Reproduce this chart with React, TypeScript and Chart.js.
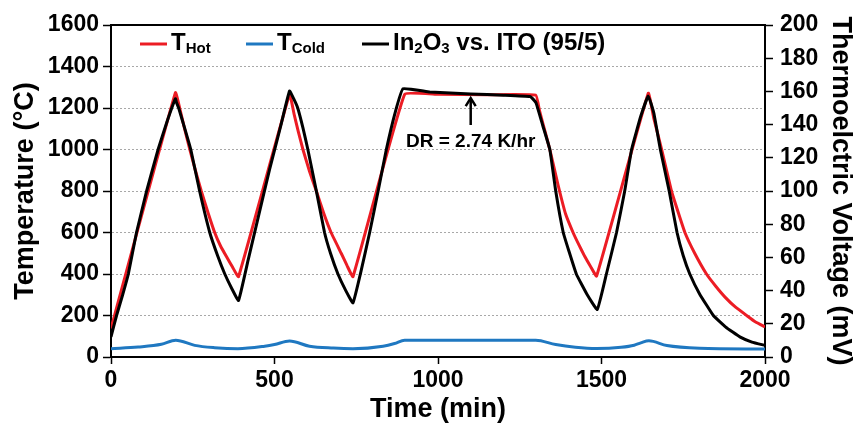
import React, { useEffect, useRef } from 'react';
import { Chart, registerables } from 'chart.js';

Chart.register(...registerables);

// ---- Data ----
const hotTime = [0, 197, 210, 225, 241, 258, 276, 297, 317, 335, 353, 372, 390, 546, 560, 573, 587, 607, 628, 650, 673, 704, 722, 740, 898, 1000, 1150, 1299, 1310, 1320, 1342, 1367, 1390, 1413, 1431, 1449, 1467, 1485, 1643, 1660, 1684, 1714, 1735, 1755, 1785, 1821, 1850, 1880, 1910, 1944, 1970, 2000];
const hotTemp = [137, 1274, 1200, 1100, 1000, 900, 800, 694, 600, 535, 484, 432, 387, 1266, 1170, 1085, 1000, 895, 800, 695, 600, 500, 440, 387, 1266, 1266, 1264, 1262, 1190, 1130, 1000, 830, 690, 600, 540, 484, 435, 390, 1271, 1150, 1000, 800, 695, 600, 500, 400, 340, 285, 240, 200, 170, 145];

const coldTime = [0, 83, 154, 198, 256, 317, 388, 470, 500, 546, 607, 680, 740, 832, 867, 898, 1299, 1360, 1420, 1485, 1560, 1600, 1620, 1645, 1700, 1800, 2000];
const coldTemp = [40, 48, 61, 81, 56, 45, 40, 52, 60, 77, 52, 43, 40, 52, 65, 81, 81, 60, 47, 41, 47, 57, 68, 78, 55, 42, 38];

const voltTime = [0, 17, 35, 53, 78, 109, 144, 170, 197, 200, 207, 225, 244, 271, 302, 327, 348, 370, 390, 420, 450, 485, 520, 546, 560, 571, 587, 602, 628, 653, 672, 694, 718, 740, 765, 791, 817, 842, 870, 893, 975, 1100, 1200, 1281, 1290, 1300, 1321, 1342, 1360, 1383, 1400, 1423, 1455, 1487, 1515, 1546, 1571, 1592, 1620, 1643, 1660, 1680, 1707, 1731, 1750, 1770, 1800, 1842, 1880, 1923, 1960, 2000];
const voltage = [12.1, 25, 37, 50, 75, 100, 125, 141, 155.6, 153.5, 150, 138, 125, 100, 75, 60.5, 50, 41, 34, 59, 84, 113, 140, 160.2, 155, 150, 138, 125, 100, 75, 62, 50, 40, 32.6, 52, 75, 100, 125, 148, 161.6, 159.6, 158.5, 157.7, 156.9, 155.5, 153, 139, 125, 100, 75, 64, 50, 38, 28.6, 50, 75, 100, 125, 145, 157.3, 147, 125, 100, 75, 61, 50, 38, 25, 18, 12.1, 9, 7];

// axis ranges / ticks
const xRange = [0, 2000];
const xStep = 500;
const tempRange = [0, 1600];
const tempStep = 200;
const voltRange = [0, 200];
const voltStep = 20;

// annotation
const drTime = 1100;
const drLabel = 'DR = 2.74 K/hr';

const FONT = "'Liberation Sans', Arial, Helvetica, sans-serif";
const RED = '#ec1c24';
const BLUE = '#1f78c1';
const BLACK = '#000000';

const toXY = (xs: number[], ys: number[]) => xs.map((x, i) => ({ x, y: ys[i] }));
const plain = (v: any) => String(v);

const frameAndLegend = {
  id: 'frameAndLegend',
  afterDraw(chart: any) {
    const { ctx, chartArea, scales } = chart;
    const L = chartArea.left;
    const T = chartArea.top;
    ctx.save();
    // top border
    ctx.strokeStyle = '#000';
    ctx.lineWidth = 2;
    ctx.beginPath();
    ctx.moveTo(chartArea.left - 1, T);
    ctx.lineTo(chartArea.right + 1, T);
    ctx.stroke();

    // legend
    const ly = T + 19;
    const base = T + 25;
    const subBase = T + 28;
    const drawItem = (x0: number, color: string, parts: { t: string; sub?: boolean }[]) => {
      ctx.strokeStyle = color;
      ctx.lineWidth = 3;
      ctx.beginPath();
      ctx.moveTo(x0, ly);
      ctx.lineTo(x0 + 27, ly);
      ctx.stroke();
      let x = x0 + 31;
      ctx.fillStyle = '#000';
      ctx.textAlign = 'left';
      ctx.textBaseline = 'alphabetic';
      for (const p of parts) {
        ctx.font = p.sub ? `bold 15px ${FONT}` : `bold 24px ${FONT}`;
        ctx.fillText(p.t, x, p.sub ? subBase : base);
        x += ctx.measureText(p.t).width;
      }
    };
    drawItem(L + 29, RED, [{ t: 'T' }, { t: 'Hot', sub: true }]);
    drawItem(L + 135, BLUE, [{ t: 'T' }, { t: 'Cold', sub: true }]);
    drawItem(L + 251, BLACK, [{ t: 'In' }, { t: '2', sub: true }, { t: 'O' }, { t: '3', sub: true }, { t: ' vs. ITO (95/5)' }]);

    // DR annotation
    const ax = scales.x.getPixelForValue(drTime);
    const yTip = scales.y.getPixelForValue(1248);
    const yBot = scales.y.getPixelForValue(1118);
    ctx.strokeStyle = '#000';
    ctx.lineWidth = 2.5;
    ctx.beginPath();
    ctx.moveTo(ax, yBot);
    ctx.lineTo(ax, yTip + 1);
    ctx.stroke();
    ctx.beginPath();
    ctx.moveTo(ax - 5, yTip + 8);
    ctx.lineTo(ax, yTip);
    ctx.lineTo(ax + 5, yTip + 8);
    ctx.stroke();
    ctx.font = `bold 19px ${FONT}`;
    ctx.textAlign = 'center';
    ctx.fillStyle = '#000';
    ctx.fillText(drLabel, ax, scales.y.getPixelForValue(1012));
    ctx.restore();
  },
};

export default function App() {
  const ref = useRef<HTMLCanvasElement | null>(null);
  useEffect(() => {
    if (!ref.current) return;
    const tickFont = { family: FONT, size: 23, weight: 'bold' as const };
    const titleFont = { family: FONT, size: 27, weight: 'bold' as const };
    const chart = new Chart(ref.current, {
      type: 'line',
      data: {
        datasets: [
          {
            label: 'In2O3 vs. ITO (95/5)',
            data: toXY(voltTime, voltage),
            yAxisID: 'y2',
            borderColor: BLACK,
            borderWidth: 3,
            pointRadius: 0,
            tension: 0.1,
            order: 0,
          },
          {
            label: 'THot',
            data: toXY(hotTime, hotTemp),
            yAxisID: 'y',
            borderColor: RED,
            borderWidth: 3,
            pointRadius: 0,
            tension: 0.1,
            order: 1,
          },
          {
            label: 'TCold',
            data: toXY(coldTime, coldTemp),
            yAxisID: 'y',
            borderColor: BLUE,
            borderWidth: 3,
            pointRadius: 0,
            cubicInterpolationMode: 'monotone',
            order: 2,
          },
        ],
      },
      options: {
        responsive: false,
        animation: false,
        layout: { padding: { top: 25, left: 0, right: 0, bottom: 0 } },
        plugins: { legend: { display: false }, tooltip: { enabled: false } },
        scales: {
          x: {
            type: 'linear',
            min: xRange[0],
            max: xRange[1],
            ticks: { stepSize: xStep, font: tickFont, color: '#000', padding: 3, maxRotation: 0, callback: plain },
            grid: { drawOnChartArea: false, tickLength: 7, tickColor: '#000', tickWidth: 1.5 },
            border: { color: '#000', width: 2 },
            title: { display: true, text: 'Time (min)', font: titleFont, color: '#000', padding: { top: 0, bottom: 0 } },
            afterFit: (s: any) => { s.height = 69; },
          },
          y: {
            position: 'left',
            min: tempRange[0],
            max: tempRange[1],
            ticks: { stepSize: tempStep, font: tickFont, color: '#000', padding: 4, callback: plain },
            grid: { color: '#a8a8a8', lineWidth: 1, tickLength: 8, tickColor: '#000', tickWidth: 1.5, tickBorderDash: [] },
            border: { color: '#000', width: 2, dash: [2, 2] },
            title: { display: true, text: 'Temperature (°C)', font: titleFont, color: '#000', padding: { top: 9, bottom: 0 } },
            afterFit: (s: any) => { s.width = 111; },
          },
          y2: {
            position: 'right',
            min: voltRange[0],
            max: voltRange[1],
            ticks: { stepSize: voltStep, font: tickFont, color: '#000', padding: 7, callback: plain },
            grid: { drawOnChartArea: false, tickLength: 8, tickColor: '#000', tickWidth: 1.5 },
            border: { color: '#000', width: 2 },
            title: { display: true, text: 'Thermoelctric Voltage (mV)', font: titleFont, color: '#000', padding: { top: 1, bottom: 0 } },
            afterFit: (s: any) => { s.width = 93; },
          },
        },
      } as any,
      plugins: [frameAndLegend],
    });
    return () => chart.destroy();
  }, []);
  return (
    <div style={{ position: 'fixed', left: 0, top: 0, width: 858, height: 426, background: '#fff' }}>
      <canvas ref={ref} width={858} height={426} style={{ width: 858, height: 426 }} />
    </div>
  );
}
